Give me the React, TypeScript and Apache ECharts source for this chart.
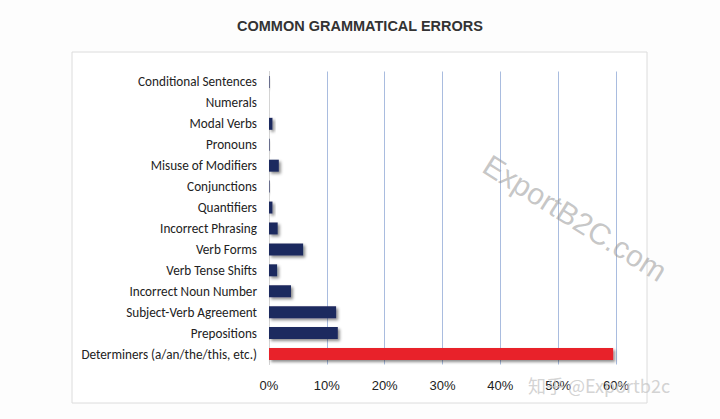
import React, { useEffect, useRef } from "react";
import * as echarts from "echarts";

const categories = [
  "Conditional Sentences",
  "Numerals",
  "Modal Verbs",
  "Pronouns",
  "Misuse of Modifiers",
  "Conjunctions",
  "Quantifiers",
  "Incorrect Phrasing",
  "Verb Forms",
  "Verb Tense Shifts",
  "Incorrect Noun Number",
  "Subject-Verb Agreement",
  "Prepositions",
  "Determiners (a/an/the/this, etc.)",
];
const values = [0.1, 0, 0.6, 0.1, 1.7, 0.1, 0.6, 1.5, 5.9, 1.4, 3.8, 11.6, 11.9, 59.5];
const highlightIndex = 13;
const xTicks = [0, 10, 20, 30, 40, 50, 60];

export default function App() {
  const ref = useRef<HTMLDivElement>(null);
  useEffect(() => {
    if (!ref.current) return;
    const chart = echarts.init(ref.current, undefined, { renderer: "svg" });
    chart.setOption({
      animation: false,
      backgroundColor: "#fdfdfd",
      title: {
        text: "COMMON GRAMMATICAL ERRORS",
        left: "center",
        top: 13,
        textStyle: {
          fontFamily: "Liberation Sans, Arial, sans-serif",
          fontSize: 14.5,
          fontWeight: "bold",
          color: "#333333",
        },
      },
      graphic: [
        {
          type: "rect",
          z: -10,
          shape: { x: 72, y: 52, width: 575, height: 351 },
          style: { fill: "#ffffff", stroke: "#dcdcdc", lineWidth: 1 },
        },
        {
          type: "text",
          x: 575,
          y: 218,
          rotation: -0.56,
          z: 100,
          style: {
            text: "ExportB2C.com",
            fontFamily: "Liberation Sans, Arial, sans-serif",
            fontSize: 30,
            fill: "rgba(150,150,150,0.55)",
            align: "center",
            verticalAlign: "middle",
          },
        },
        {
          type: "text",
          x: 528,
          y: 385,
          z: 100,
          style: {
            text: "知乎 @Exportb2c",
            fontFamily: "Noto Sans CJK SC, Liberation Sans, sans-serif",
            fontSize: 18,
            fill: "rgba(200,200,200,0.8)",
            align: "left",
            verticalAlign: "middle",
          },
        },
      ],
      grid: {
        left: 269,
        right: 104,
        top: 71.5,
        bottom: 54.5,
        containLabel: false,
      },
      xAxis: {
        type: "value",
        min: 0,
        max: 60,
        interval: 10,
        axisLine: { show: false },
        axisTick: { show: false },
        splitLine: { show: true, lineStyle: { color: "#a9bcdf", width: 1 } },
        axisLabel: {
          margin: 14,
          fontSize: 13,
          fontFamily: "Liberation Sans, Arial, sans-serif",
          color: "#222222",
          formatter: (v: number) => (xTicks.includes(v) ? v + "%" : ""),
        },
      },
      yAxis: {
        type: "category",
        inverse: true,
        data: categories,
        axisLine: { show: true, lineStyle: { color: "#d4d4d4", width: 1 } },
        axisTick: { show: false },
        splitLine: { show: false },
        axisLabel: {
          margin: 12,
          fontSize: 13.2,
          fontFamily: "Carlito, Lato, 'Open Sans', sans-serif",
          color: "#222222",
        },
      },
      series: [
        {
          type: "bar",
          barWidth: 12,
          data: values.map((v, i) => ({
            value: v,
            itemStyle: {
              color: i === highlightIndex ? "#e8202a" : "#1f2a5e",
            },
          })),
          itemStyle: {
            shadowColor: "rgba(0,0,0,0.45)",
            shadowBlur: 3,
            shadowOffsetX: 2,
            shadowOffsetY: 2,
          },
        },
      ],
    });
    return () => chart.dispose();
  }, []);
  return (
    <div
      ref={ref}
      style={{ position: "fixed", left: 0, top: 0, width: 720, height: 419 }}
    />
  );
}
